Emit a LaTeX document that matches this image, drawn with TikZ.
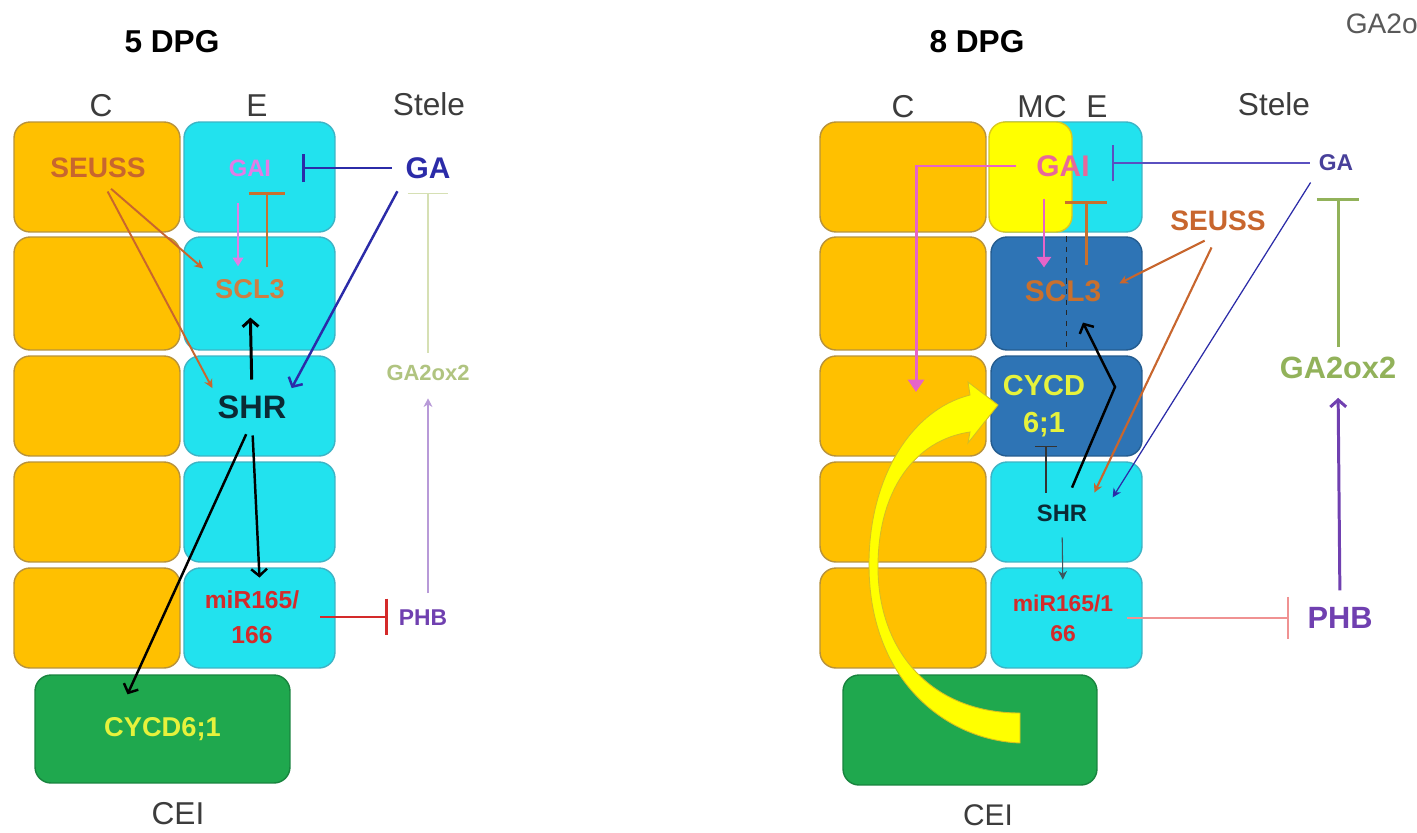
\documentclass[tikz,border=0pt]{standalone}
\usepackage{fontspec}
\setmainfont{Liberation Sans}
\usetikzlibrary{arrows.meta}
\definecolor{cortex}{HTML}{FFC000}
\definecolor{cortexline}{HTML}{B8923A}
\definecolor{endo}{HTML}{22E2EE}
\definecolor{endoline}{HTML}{3CB4C6}
\definecolor{mcblue}{HTML}{2E74B5}
\definecolor{mcblueline}{HTML}{245C90}
\definecolor{ceigreen}{HTML}{1FA84E}
\definecolor{ceiline}{HTML}{18843E}
\definecolor{mcyellow}{HTML}{FFFF00}
\definecolor{seussor}{HTML}{C8662E}
\definecolor{gaipink}{HTML}{E27CE6}
\definecolor{gairose}{HTML}{E8689A}
\definecolor{gaimag}{HTML}{E664C8}
\definecolor{gablue}{HTML}{2B2BA8}
\definecolor{gaviolet}{HTML}{5A50C0}
\definecolor{sclor}{HTML}{C8702E}
\definecolor{shrdark}{HTML}{0B2A35}
\definecolor{mirred}{HTML}{D42A2A}
\definecolor{mirpink}{HTML}{F09292}
\definecolor{phbpurple}{HTML}{7040B0}
\definecolor{phblav}{HTML}{B89AD8}
\definecolor{oxgreen}{HTML}{92B25A}
\definecolor{oxpale}{HTML}{B0C480}
\definecolor{oxfaint}{HTML}{D6E0B4}
\definecolor{cyctext}{HTML}{E6F23C}
\definecolor{labelgray}{HTML}{3C3C3C}
\newcommand{\fsz}[1]{\fontsize{#1}{#1}\selectfont}

\begin{document}
\begin{tikzpicture}[
    x=0.02cm, y=-0.02cm,
    every node/.style={inner sep=1.5pt},
    cell/.style={draw, line width=0.8pt, rounded corners=0.32cm, inner sep=0pt},
    ccell/.style={cell, fill=cortex, draw=cortexline, minimum width=3.32cm},
    ecell/.style={cell, fill=endo, draw=endoline, minimum width=3.02cm},
    dpg/.style={font=\bfseries\fsz{18}},
    colhead/.style={font=\fsz{18}, text=labelgray},
    gene/.style={font=\bfseries\fsz{#1}},
    act/.style={-{Stealth[length=5pt,width=5pt]}},
    barb/.style={-{Straight Barb[length=4pt,width=9pt]}},
    inh/.style={-{Bar[width=#1]}},
]

% Canvas
\fill[white] (0,0) rectangle (1417,832);
\useasboundingbox (0,0) rectangle (1417,832);

% Cells, both stages
\foreach \r/\yc/\h in {1/177/2.2cm, 2/293.5/2.26cm, 3/406/2.0cm, 4/512/2.0cm, 5/618/2.0cm} {
    \node[ccell, minimum height=\h] (cL\r) at (97,\yc) {};
    \node[ecell, minimum height=\h] (eL\r) at (259.5,\yc) {};
    \node[ccell, minimum height=\h] (cR\r) at (903,\yc) {};
}
\foreach \r/\yc/\h/\f/\d in {1/177/2.2cm/endo/endoline, 2/293.5/2.26cm/mcblue/mcblueline,
        3/406/2.0cm/mcblue/mcblueline, 4/512/2.0cm/endo/endoline, 5/618/2.0cm/endo/endoline} {
    \node[cell, fill=\f, draw=\d, minimum width=3.02cm, minimum height=\h] (eR\r) at (1066.5,\yc) {};
}
% MC half of the top cell
\node[cell, fill=mcyellow, draw=cortexline!50!mcyellow, minimum width=1.66cm, minimum height=2.2cm] (mcR1) at (1030.5,177) {};
\draw[dashed, line width=0.9pt, black!85] (eR2.north) -- (eR2.south);

% CEI
\node[cell, fill=ceigreen, draw=ceiline, minimum width=5.1cm, minimum height=2.16cm,
    gene=15.5, text=cyctext] (ceiL) at (162.5,729) {CYCD6;1};
\node[cell, fill=ceigreen, draw=ceiline, minimum width=5.08cm, minimum height=2.2cm] (ceiR) at (970,730) {};

% Yellow arrow, CEI to CYCD6;1
\filldraw[fill=mcyellow, draw=cortexline!60!mcyellow, line width=0.5pt]
    (1020,743) .. controls (945,740) and (870,680) .. (869,567)
    .. controls (868,480) and (910,410) .. (970,395) -- (968,382) -- (998,405) -- (968,443) -- (970,432)
    .. controls (915,440) and (878,490) .. (878,567)
    .. controls (878,650) and (930,713) .. (1020,713) -- cycle;

% Headings
\node[dpg] (dpg5) at (172,42) {5 DPG};
\node[dpg] (dpg8) at (977,42) {8 DPG};
\node[colhead] (hCL) at (101,106) {C};
\node[colhead] (hEL) at (257,106) {E};
\node[colhead] (hSL) at (429,104) {Stele};
\node[colhead] (hCR) at (903,107) {C};
\node[colhead] (hMC) at (1042,107) {MC};
\node[colhead] (hER) at (1097,107) {E};
\node[colhead] (hSR) at (1274,104) {Stele};
\node[colhead] (ceiLabL) at (178,814) {CEI};
\node[colhead, font=\fsz{17}] (ceiLabR) at (988,815) {CEI};
\node[font=\fsz{16}, text=labelgray!85, anchor=east, inner sep=0pt] (gaoxCut) at (1418,24) {GA2o};

% 5 DPG genes
\node[gene=16, text=seussor] (seussL) at (98,168) {SEUSS};
\node[gene=13.5, text=gaipink] (gaiL) at (250,168) {GAI};
\node[gene=17, text=gablue] (gaL) at (428,168) {GA};
\node[gene=15.5, text=sclor!90!white] (sclL) at (250,289) {SCL3};
\node[gene=18.5, text=shrdark] (shrL) at (252,407) {SHR};
\node[gene=14, text=mirred, align=center, font=\bfseries\fontsize{14}{19.8}\selectfont] (mirL) at (252,617) {miR165/\\166};
\node[gene=13, text=phbpurple] (phbL) at (423,618) {PHB};
\node[gene=12.5, text=oxpale] (gaoxL) at (428,373) {GA2ox2};

% 8 DPG genes
\node[gene=17, text=gairose] (gaiR) at (1063,166) {GAI};
\node[gene=13, text=gaviolet!80!black] (gaR) at (1336,163) {GA};
\node[gene=16, text=seussor] (seussR) at (1218,221) {SEUSS};
\node[gene=17, text=sclor] (sclR) at (1063,291) {SCL3};
\node[gene=16.5, text=cyctext, align=center, font=\bfseries\fontsize{16.5}{21}\selectfont] (cycdR) at (1044,406) {CYCD\\6;1};
\node[gene=13.5, text=shrdark] (shrR) at (1062,513) {SHR};
\node[gene=13, text=mirred, align=center, font=\bfseries\fontsize{13}{17}\selectfont] (mirR) at (1063,618) {miR165/1\\66};
\node[gene=17.5, text=phbpurple] (phbR) at (1340,618) {PHB};
\node[gene=17.5, text=oxgreen] (gaoxR) at (1338,368) {GA2ox2};
\coordinate (shrBend) at (1115,387);

% 5 DPG links
\draw[gablue, line width=1.7pt, inh=16pt, shorten <=0.22cm, shorten >=0.56cm] (gaL.west) -- (gaiL.east);
\draw[gaipink, line width=1.1pt, -{Triangle[length=5pt,width=6pt]}, shorten <=0.48cm, shorten >=0.2cm]
    ([xshift=-0.24cm]gaiL.south) -- ([xshift=-0.24cm]sclL.north);
\draw[sclor, line width=1.7pt, inh=21pt, shorten <=0.18cm, shorten >=0.26cm]
    ([xshift=0.34cm]sclL.north) -- ([xshift=0.34cm]gaiL.south);
\draw[seussor, line width=1.1pt, act, shorten <=0.24cm, shorten >=0.24cm] ([xshift=0.08cm]seussL.south) -- (sclL.north west);
\draw[seussor, line width=1.1pt, act, shorten <=0.24cm, shorten >=0.1cm] ([xshift=0.08cm]seussL.south) -- (shrL.north west);
\draw[gablue, line width=1.4pt, barb, shorten <=0.22cm, shorten >=0.1cm] (gaL.south west) -- (shrL.north east);
\draw[black, line width=1.7pt, barb, shorten <=0.26cm, shorten >=0.32cm] (shrL.north) -- (sclL.south);
\draw[black, line width=1.4pt, barb, shorten <=0.28cm, shorten >=0.2cm] (shrL.south) -- ([xshift=0.16cm]mirL.north);
\draw[black, line width=1.4pt, barb, shorten <=0.28cm] (shrL.south) -- ([xshift=-0.7cm,yshift=-0.4cm]ceiL.north);
\draw[mirred, line width=1.4pt, inh=21pt, shorten <=0.36cm, shorten >=0.16cm] (mirL.east) -- (mirL.east -| phbL.west);
\draw[phblav, line width=0.6pt, act, shorten <=0.28cm, shorten >=0.29cm] (phbL.north -| gaoxL.south) -- (gaoxL.south);
\draw[oxfaint, line width=0.6pt, inh=23pt, shorten <=0.19cm, shorten >=0.22cm] (gaoxL.north) -- (gaoxL.north |- gaL.south);

% 8 DPG links
\draw[gaviolet, line width=1.2pt, inh=21pt, shorten <=0.12cm, shorten >=0.38cm] (gaR.west) -- (gaR.west -| gaiR.east);
\draw[gaimag, line width=1.7pt, -{Triangle[length=7pt,width=9pt]}, shorten <=0.34cm]
    (gaiR.west) -| ([xshift=0.26cm,yshift=0.28cm]cR3.center);
\draw[gaimag, line width=1.4pt, -{Triangle[length=6pt,width=8pt]}, shorten <=0.38cm, shorten >=0.2cm]
    ([xshift=-0.38cm]gaiR.south) -- ([xshift=-0.38cm]sclR.north);
\draw[sclor, line width=1.7pt, inh=24pt, shorten <=0.24cm, shorten >=0.42cm]
    ([xshift=0.46cm]sclR.north) -- ([xshift=0.46cm]gaiR.south);
\draw[seussor, line width=1.2pt, act, shorten <=0.3cm, shorten >=0.34cm] (seussR.south) -- (sclR.east);
\draw[seussor, line width=1.2pt, act, shorten <=0.3cm, shorten >=0.2cm] (seussR.south) -- (shrR.north east);
\draw[gablue, line width=0.7pt, act, shorten <=0.2cm, shorten >=0.1cm] (gaR.south west) -- ([xshift=0.4cm]shrR.north east);
\draw[black, line width=1.4pt, barb]
    ([xshift=0.2cm,yshift=0.28cm]shrR.north) -- (shrBend) -- ([xshift=0.4cm,yshift=-0.36cm]sclR.south);
\draw[black!80, line width=0.6pt, inh=12pt, shorten <=0.18cm, shorten >=0.12cm]
    ([xshift=-0.32cm]shrR.north) -- ([xshift=-0.32cm]shrR.north |- cycdR.south);
\draw[shrdark!80, line width=0.6pt, act, shorten <=0.26cm, shorten >=0.24cm] (shrR.south) -- (mirR.north);
\draw[mirpink, line width=0.9pt, inh=24pt, shorten <=0.22cm, shorten >=0.32cm] (mirR.east) -- (mirR.east -| phbR.west);
\draw[phbpurple, line width=1.7pt, barb, shorten <=0.28cm, shorten >=0.32cm] (phbR.north) -- (gaoxR.south);
\draw[oxgreen, line width=1.7pt, inh=24pt, shorten <=0.14cm, shorten >=0.48cm] (gaoxR.north) -- (gaoxR.north |- gaR.south);

\end{tikzpicture}
\end{document}
